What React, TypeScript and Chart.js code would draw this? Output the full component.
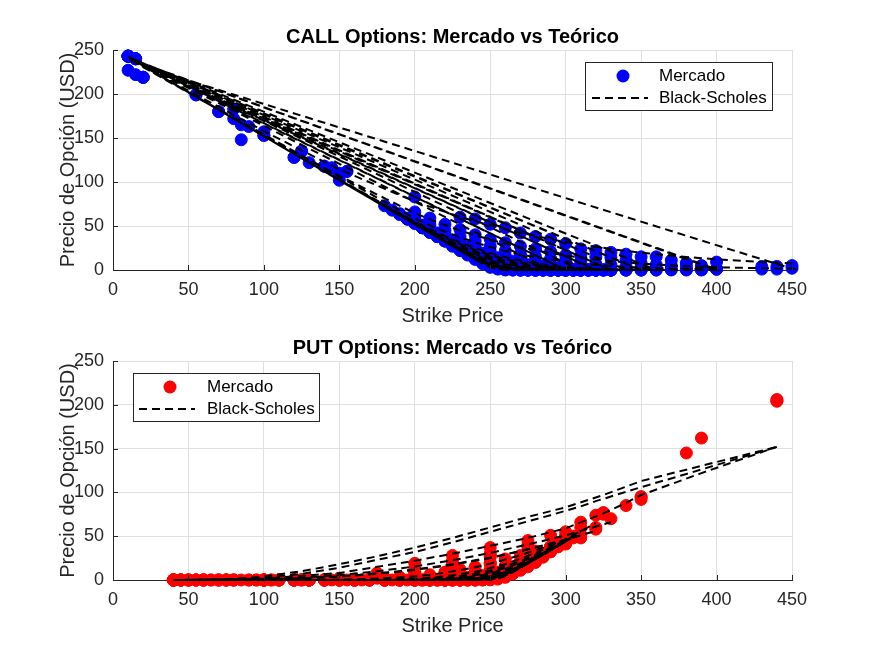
import React, { useEffect, useRef } from "react";
import { Chart, registerables } from "chart.js";

Chart.register(...registerables);

// ---------------- CALL data (one set of arrays per expiry, short -> long) ----------------
const callK1 = [10, 180, 185, 190, 195, 200, 205, 210, 215, 220, 225, 230, 235, 240, 245, 250, 255, 260, 265, 270, 275, 280, 285, 290, 295, 300];
const callMkt1 = [243, 73, 68, 63, 58, 55, 48, 43, 38, 33, 27, 22, 17, 12, 7, 3, 1, 0, 0, 0, 0, 0, 0, 0, 0, 0];
const callBS1 = [242, 72.0, 67.0, 62.0, 57.0, 52.0, 47.0, 42.0, 37.0, 32.0, 27.0, 22.0, 17.0, 12.0, 7.2, 3.2, 0.8, 0.1, 0, 0, 0, 0, 0, 0, 0, 0];

const callK2 = [15, 195, 200, 205, 210, 215, 220, 225, 230, 235, 240, 245, 250, 255, 260, 265, 270, 275, 280, 285, 290];
const callMkt2 = [240, 59, 54, 49, 44, 39, 34, 28, 23, 18, 13, 8, 4, 2, 0.5, 0, 0, 0, 0, 0, 0];
const callBS2 = [237, 57.0, 52.0, 47.0, 42.0, 37.0, 32.0, 27.0, 22.0, 17.0, 12.1, 7.6, 3.9, 1.5, 0.4, 0.1, 0, 0, 0, 0, 0];

const callK3 = [15, 190, 195, 200, 205, 210, 215, 220, 225, 230, 235, 240, 245, 250, 255, 260, 265, 270, 275, 280, 285, 290, 295, 300, 305, 310];
const callMkt3 = [240, 64, 58, 54, 48, 43, 38, 33, 28, 23, 18, 13, 8, 5, 2, 1, 0.3, 0, 0, 0, 0, 0, 0, 0, 0, 0];
const callBS3 = [237, 62.0, 57.0, 52.0, 47.0, 42.0, 37.0, 32.0, 27.0, 22.0, 17.1, 12.4, 8.1, 4.7, 2.3, 0.9, 0.3, 0.1, 0, 0, 0, 0, 0, 0, 0, 0];

const callK4 = [10, 55, 195, 200, 205, 210, 215, 220, 225, 230, 235, 240, 245, 250, 255, 260, 265, 270, 275, 280, 285, 290, 295, 300];
const callMkt4 = [243, 199, 58, 53, 49, 43, 38, 33, 28, 24, 19, 14, 10, 6, 3, 1.5, 0.5, 0, 0, 0, 0, 0, 0, 0];
const callBS4 = [242, 197, 57.0, 52.0, 47.0, 42.0, 37.0, 32.0, 27.0, 22.1, 17.3, 12.8, 8.7, 5.4, 3.1, 1.5, 0.6, 0.2, 0.1, 0, 0, 0, 0, 0];

const callK5 = [10, 55, 70, 80, 200, 205, 210, 215, 220, 225, 230, 235, 240, 245, 250, 255, 260, 265, 270, 275, 280, 285, 290, 295, 300, 305, 310, 315, 320];
const callMkt5 = [227, 199, 180, 172, 54, 48, 43, 38, 33, 28, 23, 19, 14, 10, 7, 4, 2, 1, 0.5, 0, 0, 0, 0, 0, 0, 0, 0, 0, 0];
const callBS5 = [242, 197, 182, 172, 52.0, 47.0, 42.0, 37.1, 32.0, 27.1, 22.2, 17.6, 13.2, 9.5, 6.2, 3.8, 2.1, 1.1, 0.5, 0.2, 0.1, 0, 0, 0, 0, 0, 0, 0, 0];

const callK6 = [15, 125, 195, 200, 205, 210, 215, 220, 225, 230, 235, 240, 245, 250, 255, 260, 265, 270, 275, 280, 285, 290, 295, 300, 305, 310, 315, 320];
const callMkt6 = [240, 135, 58, 54, 48, 43, 38, 34, 29, 24, 19, 15, 11, 8, 5, 3, 2, 1, 0.5, 0, 0, 0, 0, 0, 0, 0, 0, 0];
const callBS6 = [237, 127, 57.0, 52.0, 47.0, 42.0, 37.1, 32.0, 27.2, 22.5, 17.9, 13.8, 10.2, 7.0, 4.6, 2.8, 1.6, 0.8, 0.4, 0.2, 0.1, 0, 0, 0, 0, 0, 0, 0];

const callK7 = [20, 85, 100, 200, 205, 210, 215, 220, 225, 230, 235, 240, 245, 250, 255, 260, 265, 270, 275, 280, 285, 290, 295, 300, 305, 310, 315, 320, 325, 330];
const callMkt7 = [219, 148, 153, 55, 49, 44, 39, 34, 29, 24, 20, 16, 12, 9, 6, 4, 3, 2, 1, 0.5, 0.2, 0, 0, 0, 0, 0, 0, 0, 0, 0];
const callBS7 = [232, 167, 152, 52.0, 47.0, 42.0, 37.1, 32.1, 27.4, 22.8, 18.4, 14.5, 10.8, 7.8, 5.4, 3.5, 2.2, 1.3, 0.7, 0.4, 0.2, 0.1, 0, 0, 0, 0, 0, 0, 0, 0];

const callK8 = [20, 70, 200, 205, 210, 215, 220, 225, 230, 235, 240, 245, 250, 255, 260, 265, 270, 275, 280, 285, 290, 295, 300, 305, 310, 315, 320, 325, 330];
const callMkt8 = [219, 180, 54, 49, 44, 39, 34, 29, 24, 20, 16, 12, 9, 7, 5, 3, 2, 1, 0.6, 0.3, 0.2, 0, 0, 0, 0, 0, 0, 0, 0];
const callBS8 = [232, 182, 52.1, 47.0, 42.1, 37.2, 32.3, 27.6, 23.2, 18.9, 15.0, 11.6, 8.6, 6.2, 4.3, 2.8, 1.75, 1.05, 0.6, 0.3, 0.16, 0.08, 0.04, 0, 0, 0, 0, 0, 0];

const callK9 = [10, 120, 130, 200, 205, 210, 215, 220, 225, 230, 235, 240, 245, 250, 255, 260, 265, 270, 275, 280, 285, 290, 295, 300, 305, 310, 315, 320, 325, 330];
const callMkt9 = [243, 128, 122, 53, 50, 44, 40, 35, 30, 25, 21, 17, 14, 11, 8, 6, 4, 3, 2, 1, 0.5, 0.2, 0, 0, 0, 0, 0, 0, 0, 0];
const callBS9 = [242, 132, 122, 52.0, 47.2, 42.3, 37.4, 32.6, 28.2, 23.8, 19.7, 16.1, 12.8, 9.8, 7.4, 5.4, 3.8, 2.6, 1.7, 1.1, 0.6, 0.4, 0.2, 0.1, 0.1, 0, 0, 0, 0, 0];

const callK10 = [10, 140, 200, 205, 210, 215, 220, 225, 230, 235, 240, 245, 250, 255, 260, 265, 270, 275, 280, 285, 290, 295, 300, 305, 310, 315, 320, 325, 330];
const callMkt10 = [243, 118, 54, 49, 44, 39, 35, 30, 26, 22, 18, 15, 12, 9, 7, 5, 4, 3, 2, 1, 1, 0.5, 0.3, 0, 0, 0, 0, 0, 0];
const callBS10 = [242, 112.1, 52.2, 47.3, 42.5, 37.8, 33.2, 28.8, 24.6, 20.7, 17.1, 13.9, 11.0, 8.5, 6.5, 4.8, 3.4, 2.4, 1.65, 1.1, 0.7, 0.44, 0.27, 0.15, 0.09, 0.05, 0, 0, 0];

const callK11 = [15, 140, 150, 200, 205, 210, 215, 220, 225, 230, 235, 240, 245, 250, 255, 260, 265, 270, 275, 280, 285, 290, 295, 300, 310, 320, 330, 340, 350];
const callMkt11 = [222, 118, 102, 55, 50, 45, 40, 35, 31, 27, 23, 19, 16, 13, 10, 8, 6, 5, 3, 2.5, 2, 1, 0.5, 0.3, 0, 0, 0, 0, 0];
const callBS11 = [237, 112.1, 102.2, 52.3, 47.6, 42.8, 38.2, 33.7, 29.5, 25.5, 21.7, 18.2, 15.0, 12.2, 9.7, 7.7, 5.9, 4.4, 3.2, 2.3, 1.6, 1.1, 0.7, 0.5, 0.2, 0.1, 0, 0, 0];

const callK12 = [15, 100, 155, 200, 205, 210, 215, 220, 225, 230, 235, 240, 245, 250, 255, 260, 265, 270, 275, 280, 285, 290, 295, 300, 310, 320, 330, 340];
const callMkt12 = [240, 153, 112, 55, 50, 45, 41, 36, 32, 28, 24, 21, 17, 14, 12, 10, 8, 6, 5, 4, 3, 2, 1.5, 1, 0.5, 0.2, 0, 0];
const callBS12 = [237, 152, 97.1, 52.7, 48.1, 43.4, 39.0, 34.7, 30.5, 26.7, 23.0, 19.7, 16.6, 13.8, 11.3, 9.2, 7.3, 5.7, 4.4, 3.4, 2.5, 1.8, 1.3, 0.94, 0.45, 0.19, 0.08, 0.03];

const callK13 = [10, 90, 145, 155, 200, 205, 210, 215, 220, 225, 230, 235, 240, 245, 250, 255, 260, 265, 270, 275, 280, 285, 290, 295, 300, 310, 320, 330, 340, 350];
const callMkt13 = [243, 163, 116, 112, 56, 51, 46, 42, 37, 33, 29, 26, 22, 19, 16, 14, 12, 10, 8, 6, 5, 4, 3, 2, 2, 1, 0.5, 0, 0, 0];
const callBS13 = [242, 162, 107.0, 97.1, 53.2, 48.7, 44.2, 39.9, 35.6, 31.7, 28.0, 24.5, 21.0, 18.1, 15.3, 13.0, 10.7, 8.8, 7.1, 5.7, 4.5, 3.5, 2.7, 2.1, 1.6, 0.8, 0.4, 0.2, 0.1, 0.04];

const callK14 = [10, 120, 200, 210, 220, 230, 240, 250, 260, 270, 280, 290, 300, 310, 320, 330, 340, 350, 360];
const callMkt14 = [243, 128, 56, 47, 39, 31, 24, 18, 13, 9, 6, 4, 2, 1, 1, 0.5, 0, 0, 0];
const callBS14 = [242, 132, 53.8, 45.0, 36.8, 29.3, 22.7, 17.0, 12.3, 8.6, 5.7, 3.7, 2.2, 1.3, 0.73, 0.39, 0.2, 0.1, 0.05];

const callK15 = [10, 125, 200, 210, 220, 230, 240, 250, 260, 270, 280, 290, 300, 310, 320, 330, 340, 350, 360, 370, 380, 390, 400];
const callMkt15 = [243, 135, 58, 49, 41, 34, 27, 21, 16, 12, 9, 6, 4, 3, 2, 1, 0.5, 0.3, 0, 0, 0, 0, 1];
const callBS15 = [242, 127.0, 54.9, 46.5, 38.7, 31.5, 25.0, 19.4, 14.6, 10.8, 7.7, 5.2, 3.5, 2.3, 1.4, 0.8, 0.5, 0.3, 0.15, 0.08, 0.04, 0.02, 0.01];

const callK16 = [10, 80, 200, 210, 220, 230, 240, 250, 260, 270, 280, 290, 300, 310, 320, 330, 340, 350, 360, 370, 380, 390, 400];
const callMkt16 = [243, 183, 60, 52, 45, 38, 33, 27, 22, 18, 15, 13, 11, 9, 7, 6, 4, 3, 2, 1, 0.5, 0.3, 1];
const callBS16 = [240.2, 172.3, 58.5, 50.8, 43.6, 37.2, 31.4, 26.1, 21.6, 17.7, 14.4, 11.6, 9.3, 7.3, 5.8, 4.5, 3.5, 2.7, 2.1, 1.6, 1.2, 0.9, 0.7];

const callK17 = [10, 85, 145, 200, 210, 220, 230, 240, 250, 260, 270, 280, 290, 300, 310, 320, 330, 340, 350, 360, 370, 380, 390, 400, 430, 440, 450];
const callMkt17 = [243, 165, 116, 66, 59, 52, 46, 40, 35, 31, 27, 24, 21, 17, 16, 15, 14, 11, 8, 6, 5, 4, 3, 1, 1, 1, 2];
const callBS17 = [240.4, 168.3, 111.2, 64.6, 57.6, 51.1, 44.8, 39.5, 34.4, 30.0, 26.0, 22.4, 19.3, 16.5, 14.1, 12.0, 10.2, 8.6, 7.3, 6.2, 5.2, 4.4, 3.7, 3.1, 2.0, 1.7, 1.5];

const callK18 = [20, 100, 150, 200, 230, 240, 250, 260, 270, 280, 290, 300, 310, 320, 330, 340, 350, 360, 370, 380, 390, 400, 430, 440, 450];
const callMkt18 = [219, 157, 110, 83, 60, 58, 52, 48, 42, 38, 35, 30, 24, 22, 20, 18, 15, 15, 11, 8, 5, 9, 4, 4, 5];
const callBS18 = [231.5, 157.8, 114.3, 77.8, 60.4, 55.4, 50.8, 46.5, 42.4, 38.6, 35.1, 31.9, 28.9, 26.5, 23.9, 21.7, 19.8, 18.0, 16.3, 14.8, 13.4, 12.1, 9.2, 8.4, 7.6];

// ---------------- PUT data (one set of arrays per expiry) ----------------
const putK1 = [40, 45, 50, 55, 60, 100, 150, 200, 210, 220, 230, 235, 240, 245, 250, 255, 260, 265, 270, 275, 280, 285, 290];
const putMkt1 = [0, 0, 0, 0, 0, 0, 0, 0, 0, 0, 0, 0, 0, 0, 0.2, 1, 3, 7, 11, 15, 20, 26, 34];
const putBS1 = [0, 0, 0, 0, 0, 0, 0, 0, 0, 0, 0, 0, 0, 0.02, 0.3, 1.5, 4.6, 9.1, 14.0, 19.0, 24.0, 29.0, 34.0];

const putK2 = [50, 60, 100, 200, 220, 230, 240, 245, 250, 255, 260, 265, 270, 275, 280, 285, 290, 295];
const putMkt2 = [0, 0, 0, 0, 0, 0, 0, 0.2, 0.5, 2, 4, 8, 12, 17, 22, 27, 32, 40];
const putBS2 = [0, 0, 0, 0, 0, 0, 0.03, 0.17, 0.8, 2.3, 5.2, 9.4, 14.1, 19.0, 24.0, 29.0, 34.0, 39.0];

const putK3 = [40, 60, 100, 150, 200, 220, 230, 235, 240, 245, 250, 255, 260, 265, 270, 275, 280, 285, 290];
const putMkt3 = [0, 0, 0, 0, 0, 0, 0, 0, 0, 0.3, 1, 2, 5, 9, 13, 18, 23, 28, 35];
const putBS3 = [0, 0, 0, 0, 0, 0, 0, 0.03, 0.14, 0.49, 1.4, 3.1, 5.9, 9.8, 14.3, 19.0, 24.0, 29.0, 34.0];

const putK4 = [45, 55, 70, 75, 95, 110, 120, 130, 140, 150, 160, 170, 180, 190, 200, 205, 210, 215, 220, 225, 230, 235, 240, 245, 250, 255, 260, 265, 270, 275, 280, 285, 290];
const putMkt4 = [0, 0, 0, 0, 0, 0, 0, 0, 0, 0, 0, 0, 0, 0, 0, 0, 0, 0, 0, 0, 0, 0, 0.2, 0.5, 1.5, 3, 6, 10, 15, 20, 26, 30, 38];
const putBS4 = [0, 0, 0, 0, 0, 0, 0, 0, 0, 0, 0, 0, 0, 0, 0, 0, 0, 0, 0, 0, 0.02, 0.07, 0.23, 0.69, 1.7, 3.5, 6.3, 10.0, 14.4, 19.1, 24.0, 29.0, 34.0];

const putK5 = [40, 55, 75, 100, 120, 140, 160, 180, 200, 210, 215, 220, 225, 230, 235, 240, 245, 250, 255, 260, 265, 270, 275, 280, 285, 290, 295, 300];
const putMkt5 = [0, 0, 0, 0, 0, 0, 0, 0, 0, 0, 0, 0, 0, 0, 0.2, 0.5, 1, 2, 4, 7, 10, 14, 19, 24, 29, 33, 38, 42];
const putBS5 = [0, 0, 0, 0, 0, 0, 0, 0, 0, 0, 0, 0, 0.02, 0.06, 0.19, 0.52, 1.2, 2.4, 4.3, 7.0, 10.6, 14.7, 19.3, 24.1, 29.0, 34.0, 39.0, 44.0];

const putK6 = [45, 65, 85, 110, 130, 160, 190, 210, 220, 225, 230, 235, 240, 245, 250, 255, 260, 265, 270, 275, 280, 285, 290, 295, 300];
const putMkt6 = [0, 0, 0, 0, 0, 0, 0, 0, 0, 0, 0, 0.3, 0.5, 1.5, 3, 5, 8, 11, 15, 19, 24, 29, 33, 38, 41];
const putBS6 = [0, 0, 0, 0, 0, 0, 0, 0, 0.02, 0.07, 0.17, 0.41, 0.88, 1.7, 3.1, 5.1, 7.8, 11.2, 15.2, 19.6, 24.2, 29.1, 34.0, 39.0, 44.0];

const putK7 = [40, 50, 60, 100, 110, 120, 130, 140, 150, 160, 170, 180, 190, 200, 205, 210, 215, 220, 225, 230, 235, 240, 245, 250, 255, 260, 265, 270, 275, 280, 285, 290, 295, 300];
const putMkt7 = [0, 0, 0, 0, 0, 0, 0, 0, 0, 0, 0, 0, 0, 0, 0, 0, 0, 0, 0, 0.3, 0.6, 1, 2, 3, 5, 8, 12, 16, 21, 26, 30, 38, 40, 48];
const putBS7 = [0, 0, 0, 0, 0, 0, 0, 0, 0, 0, 0, 0, 0, 0, 0, 0.01, 0.03, 0.07, 0.16, 0.36, 0.74, 1.3, 2.3, 3.8, 5.9, 8.6, 11.8, 15.7, 20.0, 24.5, 29.2, 34.1, 39.1, 44.0];

const putK8 = [40, 55, 80, 105, 130, 155, 180, 200, 210, 220, 225, 230, 235, 240, 245, 250, 255, 260, 265, 270, 275, 280, 285, 290, 295, 300];
const putMkt8 = [0, 0, 0, 0, 0, 0, 0, 0, 0, 0, 0.2, 0.5, 1, 2, 3, 4, 6, 9, 13, 16, 20, 25, 30, 36, 40, 46];
const putBS8 = [0, 0, 0, 0, 0, 0, 0, 0.01, 0.03, 0.15, 0.32, 0.6, 1.1, 1.8, 3.0, 4.6, 6.7, 9.3, 12.6, 16.3, 20.4, 24.7, 29.4, 34.2, 39.1, 44.0];

const putK9 = [45, 65, 90, 105, 125, 145, 165, 185, 195, 205, 215, 225, 230, 235, 240, 245, 250, 255, 260, 265, 270, 275, 280, 285, 290, 295, 300, 305];
const putMkt9 = [0, 0, 0, 0, 0, 0, 0, 0, 0, 0, 0.2, 0.5, 1, 1.5, 2, 4, 5, 8, 11, 14, 18, 22, 26, 30, 35, 40, 44, 49];
const putBS9 = [0, 0, 0, 0, 0, 0, 0, 0, 0.01, 0.04, 0.15, 0.5, 0.9, 1.5, 2.4, 3.6, 5.3, 7.5, 10.1, 13.3, 16.9, 20.8, 25.1, 29.7, 34.4, 39.2, 44.1, 49.0];

const putK10 = [45, 55, 70, 95, 110, 120, 130, 140, 150, 160, 170, 180, 190, 200, 210, 220, 225, 230, 235, 240, 245, 250, 255, 260, 265, 270, 275, 280, 285, 290, 295, 300, 305];
const putMkt10 = [0, 0, 0, 0, 0, 0, 0, 0, 0, 0, 0, 0, 0, 0, 0.2, 0.5, 1, 2, 3, 4, 5, 7, 9, 12, 15, 18, 22, 26, 30, 35, 40, 45, 48];
const putBS10 = [0, 0, 0, 0, 0, 0, 0, 0, 0, 0, 0, 0.01, 0.02, 0.08, 0.26, 0.7, 1.2, 1.7, 2.5, 3.7, 5.1, 6.9, 9.1, 11.7, 14.8, 18.1, 21.9, 26.0, 30.4, 34.8, 39.5, 44.2, 49.1];

const putK11 = [45, 75, 100, 130, 160, 180, 190, 200, 210, 220, 230, 240, 250, 260, 270, 280, 290, 300, 305];
const putMkt11 = [0, 0, 0, 0, 0, 0, 0, 0.2, 0.5, 1, 2, 4, 8, 13, 19, 26, 33, 44, 50];
const putBS11 = [0, 0, 0, 0, 0, 0.01, 0.05, 0.15, 0.41, 1.0, 2.2, 4.3, 7.6, 12.5, 18.9, 26.5, 35.2, 44.4, 49.3];

const putK12 = [40, 70, 100, 130, 150, 170, 180, 190, 200, 210, 220, 230, 240, 250, 260, 270, 280, 290, 300, 310];
const putMkt12 = [0, 0, 0, 0, 0, 0, 0, 0, 0.2, 0.5, 1, 3, 5, 9, 14, 20, 26, 36, 45, 60];
const putBS12 = [0, 0, 0, 0, 0, 0.01, 0.04, 0.12, 0.3, 0.7, 1.5, 2.9, 5.3, 8.8, 13.7, 19.9, 27.3, 35.6, 44.9, 54.3];

const putK13 = [40, 60, 75, 100, 120, 140, 150, 160, 170, 180, 190, 200, 210, 220, 230, 240, 250, 260, 270, 280, 290, 300, 310];
const putMkt13 = [0, 0, 0, 0, 0, 0, 0, 0, 0, 0.2, 0.5, 1, 2, 3, 5, 8, 12, 16, 22, 29, 38, 44, 52];
const putBS13 = [0, 0, 0, 0, 0, 0, 0.01, 0.02, 0.06, 0.15, 0.35, 0.7, 1.4, 2.5, 4.4, 7.0, 10.8, 15.7, 21.6, 28.8, 36.8, 45.5, 54.9];

const putK14 = [50, 80, 110, 140, 160, 180, 200, 220, 240, 260, 280, 300, 320];
const putMkt14 = [0, 0, 0, 0, 0, 0.3, 1, 3, 8, 16, 30, 45, 60];
const putBS14 = [0, 0, 0, 0.02, 0.11, 0.44, 1.5, 4.0, 9.2, 18.0, 30.7, 46.7, 64.9];

const putK15 = [50, 75, 100, 120, 130, 140, 150, 160, 170, 180, 190, 200, 210, 220, 230, 240, 250, 260, 270, 280, 290, 300];
const putMkt15 = [0, 0, 0, 0, 0, 0, 0.3, 0.5, 1, 2, 3, 4, 6, 8, 12, 15, 19, 24, 28, 33, 38, 45];
const putBS15 = [0, 0, 0.01, 0.05, 0.12, 0.25, 0.45, 0.8, 1.3, 2.0, 3.0, 4.3, 6.1, 8.4, 11.2, 14.6, 18.7, 23.3, 28.4, 34.0, 40.0, 46.3];

const putK16 = [40, 100, 130, 160, 190, 220, 250, 280, 310];
const putMkt16 = [0, 0, 0, 1, 3, 9, 18, 30, 48];
const putBS16 = [0, 0.5, 2, 5, 9.5, 16, 25, 37, 51];

const putK17 = [40, 80, 120, 150, 175, 200, 225, 250, 275, 300, 320];
const putMkt17 = [0, 0, 0, 0.5, 2, 6, 12, 20, 32, 45, 58];
const putBS17 = [0, 0.2, 1.5, 4, 7.5, 12, 18, 25.5, 35, 46, 56];

const putK18 = [45, 90, 120, 150, 175, 200, 225, 250, 275, 300, 330];
const putMkt18 = [0, 0, 0, 1, 4, 9, 16, 26, 38, 50, 70];
const putBS18 = [0, 0.5, 2, 5.5, 10, 15.5, 22.5, 31, 40.5, 51, 66];

const putK19 = [40, 60, 80, 100, 125, 150, 175, 200, 225, 250, 275, 300, 325, 350, 440];
const putMkt19 = [0, 0, 0, 0, 0.5, 2, 8, 19, 28, 37, 45, 55, 75, 95, 205];
const putBS19 = [0, 0.3, 1.2, 4, 10, 18, 27, 37, 48, 60, 72, 83, 97, 113, 152];

const putK20 = [40, 70, 100, 125, 150, 175, 200, 225, 250, 275, 290, 310, 320, 350, 380, 440];
const putMkt20 = [0, 0, 0, 0, 1, 5, 12, 22, 30, 40, 51, 66, 74, 92, 145, 204];
const putBS20 = [0, 0.3, 2.5, 7, 14, 23, 32, 43, 55, 67, 74, 84, 90, 106, 121, 152];

const putK21 = [45, 100, 150, 175, 200, 225, 250, 275, 300, 325, 340, 350, 390, 440];
const putMkt21 = [0, 0, 0.5, 3, 9, 18, 28, 38, 50, 77, 85, 95, 162, 206];
const putBS21 = [0, 1.5, 8, 15, 22, 30, 39, 48, 59, 76, 88, 97, 122, 152];

// ---------------- axis tick values ----------------
const xTicks = [0, 50, 100, 150, 200, 250, 300, 350, 400, 450];
const yTicks = [0, 50, 100, 150, 200, 250];

const FONT = '"Liberation Sans", Arial, Helvetica, sans-serif';
const AX = "#262626";
const GRID = "#dfdfdf";

type Grp = [number[], number[], number[]];
const callGroups: Grp[] = [
  [callK1, callMkt1, callBS1],
  [callK2, callMkt2, callBS2],
  [callK3, callMkt3, callBS3],
  [callK4, callMkt4, callBS4],
  [callK5, callMkt5, callBS5],
  [callK6, callMkt6, callBS6],
  [callK7, callMkt7, callBS7],
  [callK8, callMkt8, callBS8],
  [callK9, callMkt9, callBS9],
  [callK10, callMkt10, callBS10],
  [callK11, callMkt11, callBS11],
  [callK12, callMkt12, callBS12],
  [callK13, callMkt13, callBS13],
  [callK14, callMkt14, callBS14],
  [callK15, callMkt15, callBS15],
  [callK16, callMkt16, callBS16],
  [callK17, callMkt17, callBS17],
  [callK18, callMkt18, callBS18],
];
const putGroups: Grp[] = [
  [putK1, putMkt1, putBS1],
  [putK2, putMkt2, putBS2],
  [putK3, putMkt3, putBS3],
  [putK4, putMkt4, putBS4],
  [putK5, putMkt5, putBS5],
  [putK6, putMkt6, putBS6],
  [putK7, putMkt7, putBS7],
  [putK8, putMkt8, putBS8],
  [putK9, putMkt9, putBS9],
  [putK10, putMkt10, putBS10],
  [putK11, putMkt11, putBS11],
  [putK12, putMkt12, putBS12],
  [putK13, putMkt13, putBS13],
  [putK14, putMkt14, putBS14],
  [putK15, putMkt15, putBS15],
  [putK16, putMkt16, putBS16],
  [putK17, putMkt17, putBS17],
  [putK18, putMkt18, putBS18],
  [putK19, putMkt19, putBS19],
  [putK20, putMkt20, putBS20],
  [putK21, putMkt21, putBS21],
];

const pts = (k: number[], v: number[]) => k.map((kk, i) => ({ x: kk, y: v[i] }));

const matlabPlugin = {
  id: "matlab",
  afterDraw(chart: any, _args: any, opts: any) {
    const { ctx, chartArea } = chart;
    const { left, right, top, bottom } = chartArea;
    const xs = chart.scales.x;
    const ys = chart.scales.y;
    ctx.save();
    ctx.strokeStyle = AX;
    ctx.lineWidth = 1;
    ctx.setLineDash([]);
    xTicks.forEach((t) => {
      const px = Math.round(xs.getPixelForValue(t)) + 0.5;
      ctx.beginPath();
      ctx.moveTo(px, bottom);
      ctx.lineTo(px, bottom - 5);
      ctx.stroke();
    });
    yTicks.forEach((t) => {
      const py = Math.round(ys.getPixelForValue(t)) + 0.5;
      ctx.beginPath();
      ctx.moveTo(left, py);
      ctx.lineTo(left + 5, py);
      ctx.stroke();
    });
    ctx.fillStyle = "#000";
    ctx.font = `bold 20px ${FONT}`;
    ctx.textAlign = "center";
    ctx.textBaseline = "middle";
    ctx.fillText(opts.title, (left + right) / 2, opts.titleY);
    ctx.fillStyle = AX;
    ctx.font = `20px ${FONT}`;
    ctx.fillText("Strike Price", (left + right) / 2, opts.xLabelY);
    ctx.save();
    ctx.translate(opts.yLabelX, (top + bottom) / 2);
    ctx.rotate(-Math.PI / 2);
    ctx.fillText("Precio de Opción (USD)", 0, 0);
    ctx.restore();
    const L = opts.legend;
    ctx.fillStyle = "#fff";
    ctx.fillRect(L.x, L.y, L.w, L.h);
    ctx.strokeStyle = AX;
    ctx.lineWidth = 1;
    ctx.strokeRect(L.x + 0.5, L.y + 0.5, L.w, L.h);
    ctx.fillStyle = opts.color;
    ctx.beginPath();
    ctx.arc(L.mx, L.y + L.r1, 6.5, 0, Math.PI * 2);
    ctx.fill();
    ctx.strokeStyle = "#000";
    ctx.lineWidth = 2;
    ctx.setLineDash([8, 5]);
    ctx.beginPath();
    ctx.moveTo(L.l1, L.y + L.r2);
    ctx.lineTo(L.l2, L.y + L.r2);
    ctx.stroke();
    ctx.setLineDash([]);
    ctx.fillStyle = "#000";
    ctx.font = `17px ${FONT}`;
    ctx.textAlign = "left";
    ctx.fillText("Mercado", L.tx, L.y + L.r1);
    ctx.fillText("Black-Scholes", L.tx, L.y + L.r2);
    ctx.restore();
  },
};

function makeConfig(datasets: any[], padTop: number, xHeight: number, pluginOpts: any) {
  return {
    type: "scatter",
    data: { datasets },
    options: {
      animation: false,
      responsive: false,
      devicePixelRatio: 1,
      events: [],
      layout: { padding: { top: padTop, right: 83, left: 0, bottom: 0 } },
      plugins: {
        legend: { display: false },
        tooltip: { enabled: false },
        title: { display: false },
        matlab: pluginOpts,
      },
      scales: {
        x: {
          type: "linear",
          min: 0,
          max: 450,
          afterBuildTicks: (s: any) => {
            s.ticks = xTicks.map((v) => ({ value: v }));
          },
          ticks: { font: { family: FONT, size: 18 }, color: AX, padding: 9, maxRotation: 0, autoSkip: false },
          grid: { color: GRID, drawTicks: false, lineWidth: 1 },
          border: { display: true, color: AX, width: 1 },
          afterFit: (s: any) => {
            s.height = xHeight;
            s.paddingLeft = 0;
            s.paddingRight = 0;
          },
        },
        y: {
          type: "linear",
          min: 0,
          max: 250,
          afterBuildTicks: (s: any) => {
            s.ticks = yTicks.map((v) => ({ value: v }));
          },
          ticks: { font: { family: FONT, size: 18 }, color: AX, padding: 9, autoSkip: false },
          grid: { color: GRID, drawTicks: false, lineWidth: 1 },
          border: { display: true, color: AX, width: 1 },
          afterFit: (s: any) => {
            s.width = 113;
            s.paddingTop = 0;
            s.paddingBottom = 0;
          },
        },
      },
    },
    plugins: [matlabPlugin],
  };
}

const lineStyle = {
  showLine: true,
  borderColor: "#000",
  borderWidth: 2,
  borderDash: [8, 5],
  pointRadius: 0,
  fill: false,
  tension: 0,
  clip: false,
  order: 0,
};

const marketStyle = (c: string) => ({
  showLine: false,
  pointRadius: 6,
  pointBorderWidth: 1,
  pointBackgroundColor: c,
  pointBorderColor: c,
  backgroundColor: c,
  borderColor: c,
  clip: false,
  order: 10,
});

export default function App() {
  const topRef = useRef<HTMLCanvasElement | null>(null);
  const botRef = useRef<HTMLCanvasElement | null>(null);

  useEffect(() => {
    const callMarket = callGroups.flatMap(([k, m]) => pts(k, m));
    const callBS = callGroups.flatMap(([k, , b]) => pts(k, b));
    const topChart = new Chart(
      topRef.current as HTMLCanvasElement,
      makeConfig(
        [
          { label: "Mercado", data: callMarket, ...marketStyle("#0000ff") },
          { label: "Black-Scholes", data: callBS, ...lineStyle },
        ],
        50,
        58,
        {
          title: "CALL Options: Mercado vs Teórico",
          titleY: 37,
          xLabelY: 316,
          yLabelX: 68,
          color: "#0000ff",
          legend: { x: 585, y: 62, w: 187, h: 48, r1: 14, r2: 36, mx: 623, l1: 592, l2: 648, tx: 659 },
        }
      ) as any
    );

    const putMarket = putGroups.flatMap(([k, m]) => pts(k, m));
    const putLines = putGroups.map(([k, , b], i) => ({ label: "Black-Scholes " + i, data: pts(k, b), ...lineStyle }));
    const botChart = new Chart(
      botRef.current as HTMLCanvasElement,
      makeConfig(
        [{ label: "Mercado", data: putMarket, ...marketStyle("#ff0000") }, ...putLines],
        33,
        76,
        {
          title: "PUT Options: Mercado vs Teórico",
          titleY: 20,
          xLabelY: 298,
          yLabelX: 68,
          color: "#ff0000",
          legend: { x: 133, y: 45, w: 186, h: 48, r1: 14, r2: 36, mx: 170, l1: 139, l2: 195, tx: 207 },
        }
      ) as any
    );
    return () => {
      topChart.destroy();
      botChart.destroy();
    };
  }, []);

  return (
    <div style={{ position: "absolute", left: 0, top: 0, width: 875, height: 656, background: "#fff" }}>
      <canvas ref={topRef} width={875} height={328} style={{ position: "absolute", left: 0, top: 0, width: 875, height: 328 }} />
      <canvas ref={botRef} width={875} height={328} style={{ position: "absolute", left: 0, top: 328, width: 875, height: 328 }} />
    </div>
  );
}
